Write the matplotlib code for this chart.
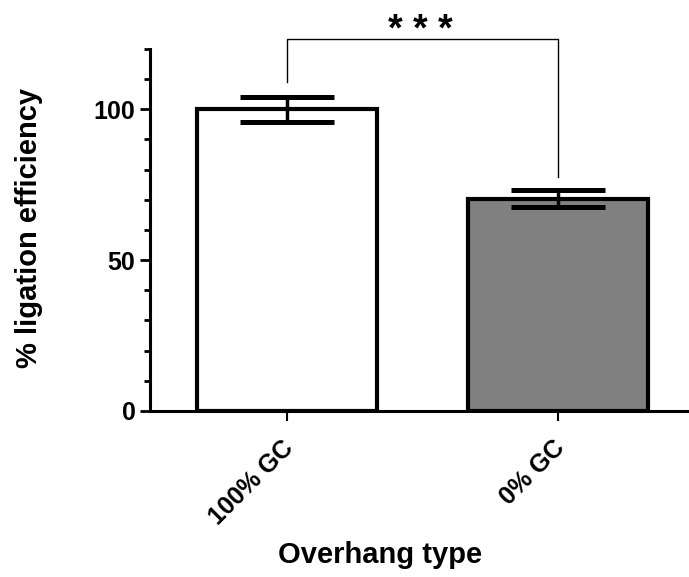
import matplotlib
matplotlib.use("Agg")
import matplotlib.pyplot as plt
import matplotlib.transforms as mtransforms
from matplotlib.ticker import MultipleLocator

plt.rcParams['font.family'] = ['Liberation Sans', 'DejaVu Sans']

categories = ["100% GC", "0% GC"]
means = [100.0, 70.4]
errors = [4.2, 2.9]
colors = ["white", "#808080"]
stars = "* * *"

fig = plt.figure(figsize=(6.89, 5.77), dpi=100)
ax = fig.add_axes([0.2177, 0.2877, 0.7823, 0.6274])

x = list(range(len(categories)))
ax.bar(x, means, width=0.667, color=colors, edgecolor="black", linewidth=3, zorder=2)
ax.errorbar(x, means, yerr=errors, fmt="none", ecolor="black", elinewidth=2.5,
            capsize=34, capthick=3.6, zorder=3)

ax.set_xlim(-0.5055, 1.483)
ax.set_ylim(0, 120)

for side in ("top", "right"):
    ax.spines[side].set_visible(False)
for side in ("left", "bottom"):
    ax.spines[side].set_linewidth(2.2)

ax.yaxis.set_major_locator(MultipleLocator(50))
ax.yaxis.set_minor_locator(MultipleLocator(10))
ax.tick_params(axis="y", which="major", length=7, width=2, labelsize=18)
ax.tick_params(axis="y", which="minor", length=4, width=2)
ax.tick_params(axis="x", length=7, width=1.5, labelsize=18)
for lbl in ax.get_yticklabels():
    lbl.set_fontweight("bold")

ax.set_xticks(x)
ax.set_xticklabels(categories, rotation=45, ha="right", rotation_mode="anchor",
                   fontweight="bold")
shift = mtransforms.ScaledTranslation(-6 / 100, -10 / 100, fig.dpi_scale_trans)
for lbl in ax.get_xticklabels():
    lbl.set_transform(lbl.get_transform() + shift)

ax.set_ylabel("% ligation efficiency", fontsize=21, fontweight="bold")
ax.yaxis.set_label_coords(-0.1985, 0.505)
ax.set_xlabel("Overhang type", fontsize=21, fontweight="bold")
ax.xaxis.set_label_coords(0.427, -0.359)

# significance bracket
top = 123.3
ax.plot([x[0], x[0], x[1], x[1]], [109, top, top, 77.7], color="black", lw=1,
        clip_on=False)
ax.text((x[0] + x[1]) / 2 - 0.01, 122.6, stars, ha="center", va="baseline",
        fontsize=27, fontweight="bold")

fig.savefig("out.png", dpi=100)
